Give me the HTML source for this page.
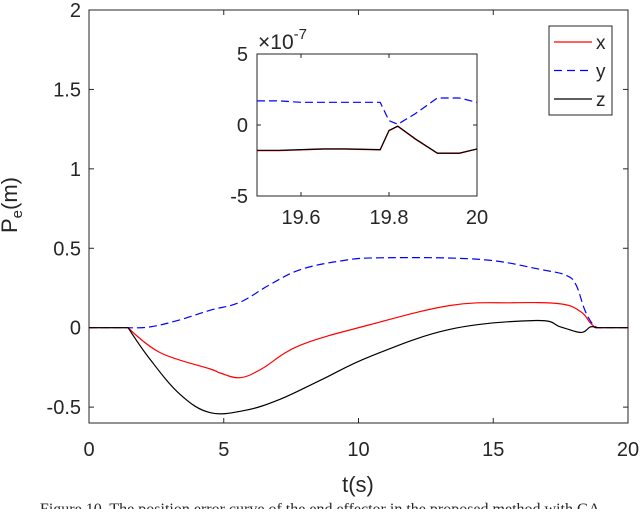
<!DOCTYPE html>
<html><head><meta charset="utf-8"><style>
body{margin:0;background:#fff;width:640px;height:509px;overflow:hidden}
text{font-family:"Liberation Sans",Arial,sans-serif;fill:#262626}
</style></head><body>
<svg id="c" width="640" height="509" xmlns="http://www.w3.org/2000/svg"></svg>
<script>
const xT=[0,1.45,2.64,4.5,4.87,5.6,6.4,7.84,10.45,13.4,15.65,17.5,18.25,18.6,18.8,20];
const xVals=[0,0,-0.157,-0.26,-0.285,-0.315,-0.26,-0.11,0.02,0.14,0.157,0.15,0.1,0.03,0,0];
const yT=[0,1.45,2.27,3.38,4.5,5.6,6.7,7.84,9.33,10.8,14.5,16.8,17.7,18.07,18.4,18.7,18.9,20];
const yVals=[0,0,0.005,0.05,0.11,0.16,0.27,0.365,0.42,0.44,0.43,0.365,0.33,0.27,0.11,0.02,0,0];
const zT=[0,1.45,2.27,3.38,4.5,5.8,7.1,8.6,10.45,13.4,16.6,17.5,18.25,18.6,18.8,20];
const zVals=[0,0,-0.2,-0.42,-0.535,-0.52,-0.45,-0.33,-0.18,-0.01,0.045,0.005,-0.03,0.005,0,0];
const xTicks=[0,5,10,15,20];
const yTicks=[-0.5,0,0.5,1,1.5,2];
const yTickLabels=["-0.5","0","0.5","1","1.5","2"];
const insT=[19.5,19.55,19.6,19.65,19.7,19.78,19.8,19.82,19.86,19.91,19.96,20];
const insXZ=[-1.8,-1.8,-1.75,-1.7,-1.7,-1.75,-0.4,-0.1,-1.0,-2.0,-2.0,-1.7];
const insY=[1.7,1.7,1.6,1.6,1.6,1.6,0.3,0.05,0.8,1.9,1.9,1.6];
const insXTicks=[19.6,19.8,20];
const insYTicks=[-5,0,5];
const svg=document.getElementById('c');
const NS='http://www.w3.org/2000/svg';
function mk(tag,attrs,txt){const e=document.createElementNS(NS,tag);for(const k in attrs)e.setAttribute(k,attrs[k]);if(txt!==undefined)e.textContent=txt;svg.appendChild(e);return e;}
const L=89,R=628,T=10,B=423;
const sx=v=>L+(v-0)/(20-0)*(R-L);
const sy=v=>T+(2-v)/(2-(-0.6))*(B-T);
let e=mk('rect',{x:L,y:T,width:R-L,height:B-T,fill:'#fff',stroke:'#262626','stroke-width':1});


xTicks.forEach(t=>{
 mk('line',{x1:sx(t),x2:sx(t),y1:B,y2:B-5,stroke:'#262626'});mk('line',{x1:sx(t),x2:sx(t),y1:T,y2:T+5,stroke:'#262626'});
 e=mk('text',{x:sx(t),y:B+33,'font-size':20,'text-anchor':'middle'},String(t));
 
 
});
yTicks.forEach((t,i)=>{
 mk('line',{x1:L,x2:L+5,y1:sy(t),y2:sy(t),stroke:'#262626'});mk('line',{x1:R,x2:R-5,y1:sy(t),y2:sy(t),stroke:'#262626'});
 e=mk('text',{x:L-8,y:sy(t)+7,'font-size':20,'text-anchor':'end'},yTickLabels[i]);
 
 
});
function path(ts,vs,fx,fy,col,dash,name,smooth){
 const P=ts.map((t,i)=>[fx(t),fy(vs[i])]);
 let d='M'+P[0][0].toFixed(1)+','+P[0][1].toFixed(1);
 for(let i=1;i<P.length;i++){
  const flat=vs[i-1]===vs[i]&&vs[i]===0;
  if(!smooth||flat){d+=' L'+P[i][0].toFixed(1)+','+P[i][1].toFixed(1);continue;}
  const p0=P[Math.max(0,i-2)],p1=P[i-1],p2=P[i],p3=P[Math.min(P.length-1,i+1)];
  const k=0.18;
  let c1=[p1[0]+(p2[0]-p0[0])*k,p1[1]+(p2[1]-p0[1])*k];
  let c2=[p2[0]-(p3[0]-p1[0])*k,p2[1]-(p3[1]-p1[1])*k];
  if(i<2||(vs[i-2]===vs[i-1]&&vs[i-1]===0)) c1=p1.slice();
  if(i+1<vs.length&&vs[i]===0&&vs[i+1]===0) c2=p2.slice();
  d+=' C'+c1.map(v=>v.toFixed(1)).join(',')+' '+c2.map(v=>v.toFixed(1)).join(',')+' '+p2[0].toFixed(1)+','+p2[1].toFixed(1);
 }
 const p=mk('path',{d:d,fill:'none',stroke:col,'stroke-width':1.2,'stroke-dasharray':dash||'none'});
 
 
}
path(yT,yVals,sx,sy,'#0000ff','8,4','series-y',true);
path(xT,xVals,sx,sy,'#ff0000','','series-x',true);
path(zT,zVals,sx,sy,'#000000','','series-z',true);
e=mk('text',{x:358,y:492,'font-size':22,'text-anchor':'middle'},'t(s)');


e=mk('text',{x:0,y:0,'font-size':22,'text-anchor':'middle',transform:'translate(17,205) rotate(-90)'});
e.innerHTML='P<tspan font-size="15" dy="5">e</tspan><tspan dy="-5">(m)</tspan>';


e=mk('rect',{x:549,y:26,width:63,height:89,fill:'#fff',stroke:'#262626'});


[['x','#ff0000',''],['y','#0000ff','8,5'],['z','#000','']].forEach((s,i)=>{
 const y=42+i*28.5;
 mk('line',{x1:554,x2:592,y1:y,y2:y,stroke:s[1],'stroke-width':1.2,'stroke-dasharray':s[2]||'none'});
 e=mk('text',{x:596,y:y+7,'font-size':19},s[0]);
 
 
});
const iL=257,iR=477,iT=54,iB=196;
const ix=v=>iL+(v-19.5)/0.5*(iR-iL);
const iy=v=>iT+(5-v)/10*(iB-iT);
e=mk('rect',{x:iL,y:iT,width:iR-iL,height:iB-iT,fill:'#fff',stroke:'#262626'});


insXTicks.forEach(t=>{
 mk('line',{x1:ix(t),x2:ix(t),y1:iB,y2:iB-4,stroke:'#262626'});mk('line',{x1:ix(t),x2:ix(t),y1:iT,y2:iT+4,stroke:'#262626'});
 e=mk('text',{x:ix(t),y:iB+28,'font-size':20,'text-anchor':'middle'},String(t));
 
 
});
insYTicks.forEach(t=>{
 mk('line',{x1:iL,x2:iL+4,y1:iy(t),y2:iy(t),stroke:'#262626'});mk('line',{x1:iR,x2:iR-4,y1:iy(t),y2:iy(t),stroke:'#262626'});
 e=mk('text',{x:iL-9,y:iy(t)+7,'font-size':20,'text-anchor':'end'},String(t));
 
 
});
e=mk('text',{x:258,y:49,'font-size':21});
e.innerHTML='×10<tspan font-size="15" dy="-10">-7</tspan>';


path(insT,insY,ix,iy,'#0000ff','8,4','inset-series-y',false);
path(insT,insXZ,ix,iy,'#ff0000','','inset-series-x',false);
path(insT,insXZ.map(v=>v+0.02),ix,iy,'#000','','inset-series-z',false);
e=mk('text',{x:320,y:514,'font-size':16,'text-anchor':'middle'},'Figure 10. The position error curve of the end effector in the proposed method with GA');
e.setAttribute('style','font-family:"Liberation Serif",serif');


</script>
</body></html>
